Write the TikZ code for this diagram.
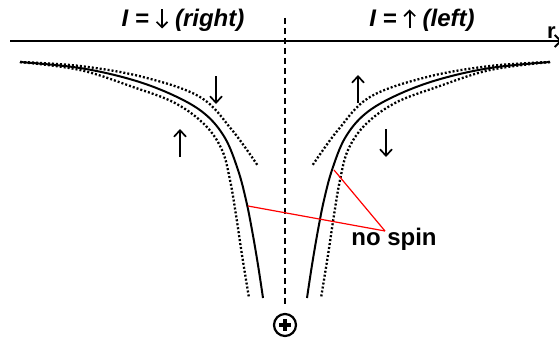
\documentclass[tikz,border=0pt]{standalone}
\usepackage{fontspec}
\setmainfont{Liberation Sans}
\usetikzlibrary{arrows.meta,calc}
\newcommand{\myDownArr}{\tikz[baseline=0pt,x=1pt,y=1pt]{\path (-6pt,-1pt) rectangle (6pt,17pt); \draw[line width=1.8pt,-{Straight Barb[length=5.5pt,width=11pt,line width=1.7pt]}] (0pt,17.5pt) -- (0pt,-1.5pt);}}
\newcommand{\myUpArr}{\tikz[baseline=0pt,x=1pt,y=1pt]{\path (-6pt,-1pt) rectangle (6pt,17pt); \draw[line width=1.8pt,-{Straight Barb[length=5.5pt,width=11pt,line width=1.7pt]}] (0pt,-1.5pt) -- (0pt,17.5pt);}}
\tikzset{
  solidc/.style={line width=2pt, black},
  dotc/.style={line width=2.3pt, black, dash pattern=on 2pt off 2pt},
  spinarrow/.style={line width=1.7pt, -{Straight Barb[length=6.5pt,width=12pt,line width=1.7pt]}},
  redline/.style={red, line width=1.2pt},
  lab/.style={font=\fontsize{24}{28}\selectfont\bfseries\itshape, inner sep=0pt}
}
\begin{document}
\begin{tikzpicture}[x=1pt,y=-1pt]
\useasboundingbox (0,0) rectangle (559,345);
% axis
\coordinate (a0) at (10,41);
\coordinate (a1) at (562,41);
\draw[line width=2pt, -{Straight Barb[length=6pt,width=12pt,line width=1.8pt]}] (a0) -- (a1);
\node[font=\fontsize{22}{24}\selectfont\bfseries, anchor=base west, inner sep=0pt] (r) at (547,38) {r};
% vertical dashed
\coordinate (v0) at (285,18);
\coordinate (v1) at (285,307);
\draw[line width=2pt, dash pattern=on 6pt off 4pt] (v0) -- (v1);
% plus
\node[circle, draw, line width=2.2pt, minimum size=22pt, inner sep=0pt] (plus) at (285,325) {};
\draw[line width=3.2pt] ($(plus)+(-6,0)$) -- ($(plus)+(6,0)$);
\draw[line width=3.2pt] ($(plus)+(0,-6)$) -- ($(plus)+(0,6)$);
% labels
\node[lab, anchor=base] (lr) at (183,27) {I = \myDownArr{} (right)};
\node[lab, anchor=base] (ll) at (422,27) {I = \myUpArr{} (left)};
% left curves
\draw[solidc] plot[smooth, tension=0.6] coordinates {(20,62) (80,68) (133,80) (175,96) (205,114) (225,138) (238,170) (246,200) (252,230) (258,265) (263,298)};
\draw[dotc] plot[smooth, tension=0.6] coordinates {(20,62) (80,66) (143,77) (200,97) (232,130) (258,166)};
\draw[dotc] plot[smooth, tension=0.6] coordinates {(20,62) (80,70) (133,87) (175,103) (205,125) (222,150) (230,180) (236,215) (242,255) (249,298)};
% right curves (mirror)
\begin{scope}[xshift=570pt, xscale=-1]
\draw[solidc] plot[smooth, tension=0.6] coordinates {(20,62) (80,68) (133,80) (175,96) (205,114) (225,138) (238,170) (246,200) (252,230) (258,265) (263,298)};
\draw[dotc] plot[smooth, tension=0.6] coordinates {(20,62) (80,66) (143,77) (200,97) (232,130) (258,166)};
\draw[dotc] plot[smooth, tension=0.6] coordinates {(20,62) (80,70) (133,87) (175,103) (205,125) (222,150) (230,180) (236,215) (242,255) (249,298)};
\end{scope}
% spin arrows
\coordinate (d1a) at (216,76); \coordinate (d1b) at (216,104);
\coordinate (u1a) at (180,157); \coordinate (u1b) at (180,129);
\coordinate (u2a) at (358,103); \coordinate (u2b) at (358,75);
\coordinate (d2a) at (386,129); \coordinate (d2b) at (386,157);
\draw[spinarrow] (d1a) -- (d1b);
\draw[spinarrow] (u1a) -- (u1b);
\draw[spinarrow] (u2a) -- (u2b);
\draw[spinarrow] (d2a) -- (d2b);
% no spin
\coordinate (p1) at (248,206);
\coordinate (p2) at (334,170);
\coordinate (pm) at (385,231);
\draw[redline] (p1) -- (pm);
\draw[redline] (p2) -- (pm);
\node[font=\fontsize{24}{27}\selectfont\bfseries, anchor=base, inner sep=0pt] (ns) at (394,245) {no spin};
\end{tikzpicture}
\end{document}
